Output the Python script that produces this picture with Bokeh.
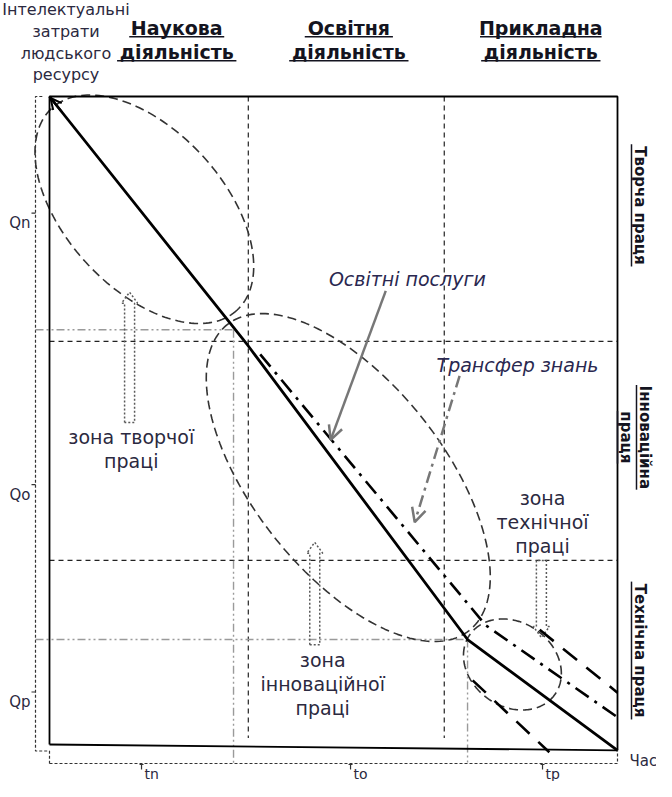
import numpy as np
from bokeh.plotting import figure
from bokeh.models import Range1d, Arrow, OpenHead
from bokeh.core.properties import value
from bokeh.embed import file_html
from bokeh.resources import INLINE

# ---------------- data (chart units: time 0..100, intellectual cost 0..100) ----------------
phase_bounds = [0.0, 32.4, 73.6, 100.0]            # tn | to | tp
phase_labels = ["tn", "to", "tp"]
activity_seps = [35.0, 69.5]                        # dashed vertical separators
labor_seps = [62.2, 28.4]                           # dashed horizontal separators
q_bounds = [100.0, 64.0, 16.2, 0.0]                 # Qn | Qo | Qp
q_labels = ["Qn", "Qo", "Qp"]

main_x = [0.0, 35.0, 73.6, 100.0]                   # intellectual cost curve
main_y = [100.0, 61.5, 16.2, -0.9]
edu_x = [37.1, 76.8, 100.0]                          # educational services (dash-dot)
edu_y = [60.2, 18.4, 4.2]
tech_hi_x = [86.3, 100.0]                            # technical labour lines (long dash)
tech_hi_y = [17.7, 8.0]
tech_lo_x = [74.5, 88.0]
tech_lo_y = [9.9, -1.2]
base_x = [0.0, 100.0]
base_y = [0.0, -0.9]

headers = [["Наукова", "діяльність"], ["Освітня", "діяльність"], ["Прикладна", "діяльність"]]
header_x = [22.4, 52.7, 86.5]
header_y = [110.6, 106.9]

labor_labels = [["Творча праця"], ["Інноваційна", "праця"], ["Технічна праця"]]
labor_label_y = [83.2, 47.4, 14.5]

zone_labels = [["зона творчої", "праці"], ["зона", "інноваційної", "праці"], ["зона", "технічної", "праці"]]
zone_label_x = [14.4, 48.1, 86.8]
zone_label_top = [47.4, 13.1, 38.1]
zone_arrow_x = [14.1, 46.7, 86.6]
zone_arrow_from = [49.7, 15.4, 28.4]
zone_arrow_to = [69.8, 31.2, 16.5]

ell_cx = [16.7, 52.6, 81.5]
ell_cy = [82.6, 41.2, 12.35]
ell_a = [137, 195, 52]        # px semi-axes
ell_b = [79, 95, 42]
ell_ang = [47.5, 51.7, 35.0]  # deg, clockwise on screen

y_title = ["Інтелектуальні", "затрати", "людського", "ресурсу"]
annot_text = ["Освітні послуги", "Трансфер знань"]
annot_pos = [(63.0, 71.8), (82.4, 58.5)]
annot_from = [(59.2, 70.0), (72.2, 56.9)]
annot_to = [(49.5, 47.0), (64.3, 34.3)]

# ---------------- layout ----------------
SX, SY = 5.68, 6.48       # px per chart unit
OX, OY = 57, 752          # page px of the chart origin
W, H = 656, 781
FONT = "DejaVu Sans"
TXT = "#2b2940"
HDR = "#141420"

p = figure(width=W, height=H, output_backend="svg", toolbar_location=None,
           x_range=Range1d((8 - OX) / SX, (8 + W - OX) / SX),
           y_range=Range1d((OY - 8 - H) / SY, (OY - 8) / SY),
           x_axis_location=None, y_axis_location=None, min_border=0)
p.grid.visible = False
p.outline_line_color = None
p.background_fill_color = "white"
p.border_fill_color = "white"


def est_w(s, size, bold=False):
    w = 0.0
    for ch in s:
        if ch in "іїІIl":
            w += 0.34 if bold else 0.28
        elif ch == " ":
            w += 0.35 if bold else 0.32
        elif ch.isupper():
            w += 0.80 if bold else 0.72
        else:
            w += 0.70 if bold else 0.61
    return w * size


def txt(x, y, s, size, color=TXT, style="normal", align="center", angle=0.0):
    p.text(x=[x], y=[y], text=[s], text_font=value(FONT), text_font_size=f"{size}px",
           text_font_style=style, text_color=color, text_align=align,
           text_baseline="middle", angle=angle)


# bracket (braces) geometry
BX = -14 / SX
BY = -19 / SY
br = dict(line_color="#333333", line_width=1.2, line_dash="3 2")
p.line([BX + 1.2, BX, BX, 0, 0], [q_bounds[0], q_bounds[0], -1.0, -1.0, BY], **br)
p.line([0, phase_bounds[-1], phase_bounds[-1]], [BY, BY, base_y[-1]], **br)
for i in range(3):
    qm = (q_bounds[i] + q_bounds[i + 1]) / 2
    p.line([BX, BX - 4 / SX], [qm, qm], line_color="#333333", line_width=1.2)
    txt(BX - 5 / SX, qm - 10 / SY, q_labels[i], 15, align="right")
    tm = (phase_bounds[i] + phase_bounds[i + 1]) / 2
    p.line([tm, tm], [BY, BY - 6 / SY], line_color="#333333", line_width=1.2)
    p.line([tm - 2 / SX, tm + 2 / SX], [BY - 1 / SY, BY - 1 / SY], line_color="#333333", line_width=1)
    txt(tm + 3 / SX, BY - 10 / SY, phase_labels[i], 14, align="left")

# dashed separators
for xs in activity_seps:
    p.line([xs, xs], [q_bounds[0], 1.0], line_color="#222222", line_width=1.2, line_dash="5 4")
for ys in labor_seps:
    p.line([0, 100], [ys, ys], line_color="#222222", line_width=1.2, line_dash="5 4")

# gray dash-dot projections
gd = dict(line_color="#9a9a9a", line_width=1.4, line_dash="8 3 2 3 2 3")
for tb, qb in zip(phase_bounds[1:3], q_bounds[1:3]):
    p.line([BX, tb], [qb, qb], **gd)
    p.line([tb, tb], [qb, BY], **gd)

# ellipses
t = np.linspace(0, 2 * np.pi, 200)
for cx, cy, a, b, ang in zip(ell_cx, ell_cy, ell_a, ell_b, ell_ang):
    th = np.radians(ang)
    dx = a * np.cos(t) * np.cos(th) - b * np.sin(t) * np.sin(th)
    dy = a * np.cos(t) * np.sin(th) + b * np.sin(t) * np.cos(th)
    p.line(cx + dx / SX, cy - dy / SY, line_color="#333333", line_width=1.6, line_dash="9 5")

# hollow zone arrows
for ax, y0, y1 in zip(zone_arrow_x, zone_arrow_from, zone_arrow_to):
    sgn = 1 if y1 > y0 else -1
    hw, hh, hl = 5 / SX, 8 / SX, 11 / SY * sgn
    xs = [ax - hw, ax - hw, ax - hh, ax, ax + hh, ax + hw, ax + hw, ax - hw]
    ys = [y0, y1 - hl, y1 - hl, y1, y1 - hl, y1 - hl, y0, y0]
    p.line(xs, ys, line_color="#5a5a5a", line_width=1.5, line_dash="2 2")

# frame
p.line([0, 0, 100, 100], [base_y[0], 100, 100, base_y[-1]], line_color="black", line_width=1.8)
p.line(base_x, base_y, line_color="black", line_width=1.8)

# curves
p.line(main_x, main_y, line_color="black", line_width=2.8)
p.line(edu_x, edu_y, line_color="black", line_width=2.6, line_dash="16 7 3 7")
p.line(tech_hi_x, tech_hi_y, line_color="black", line_width=2.6, line_dash="18 12")
p.line(tech_lo_x, tech_lo_y, line_color="black", line_width=2.6, line_dash="18 12")

# arrow at top-left end of the main curve
p.add_layout(Arrow(end=OpenHead(size=11, line_color="black", line_width=2),
                   x_start=main_x[0] + 12 / SX, y_start=main_y[0] - 15 / SY,
                   x_end=main_x[0] + 1 / SX, y_end=main_y[0] - 1.5 / SY,
                   line_color="black", line_width=2))

# annotation arrows
for (x0, y0), (x1, y1), dash in zip(annot_from, annot_to, ["solid", "12 5 3 5"]):
    p.add_layout(Arrow(end=OpenHead(size=14, line_color="#777777", line_width=2.5),
                       x_start=x0, y_start=y0, x_end=x1, y_end=y1,
                       line_color="#777777", line_width=2.5, line_dash=dash))
for s, (x, y) in zip(annot_text, annot_pos):
    txt(x, y, s, 19, color="#2a2850", style="italic")

# texts: y-axis title
for i, s in enumerate(y_title):
    txt(2.9, 113.4 - i * 21.7 / SY, s, 16)

# headers (bold, underlined)
for hx, lines in zip(header_x, headers):
    for s, hy in zip(lines, header_y):
        txt(hx, hy, s, 19, color=HDR, style="bold")
        w = est_w(s, 19, True) / SX
        uy = hy - 9 / SY
        p.line([hx - w / 2, hx + w / 2], [uy, uy], line_color=HDR, line_width=1.6)

# right labels (rotated, underlined)
for ly, lines in zip(labor_label_y, labor_labels):
    n = len(lines)
    for k, s in enumerate(lines):
        lx = 100 + (27 - 19 * k) / SX if n > 1 else 100 + 22 / SX
        txt(lx, ly, s, 15, color=HDR, style="bold", angle=-np.pi / 2)
        w = est_w(s, 15, True) / SY
        ux = lx - 8 / SX
        p.line([ux, ux], [ly - w / 2, ly + w / 2], line_color=HDR, line_width=1.5)

# zone labels
for zx, zt, lines in zip(zone_label_x, zone_label_top, zone_labels):
    for k, s in enumerate(lines):
        txt(zx, zt - k * 24 / SY, s, 19)

txt(100 + 12 / SX, -16 / SY, "Час", 15, align="left")

open("out.html", "w").write(file_html(p, INLINE))
